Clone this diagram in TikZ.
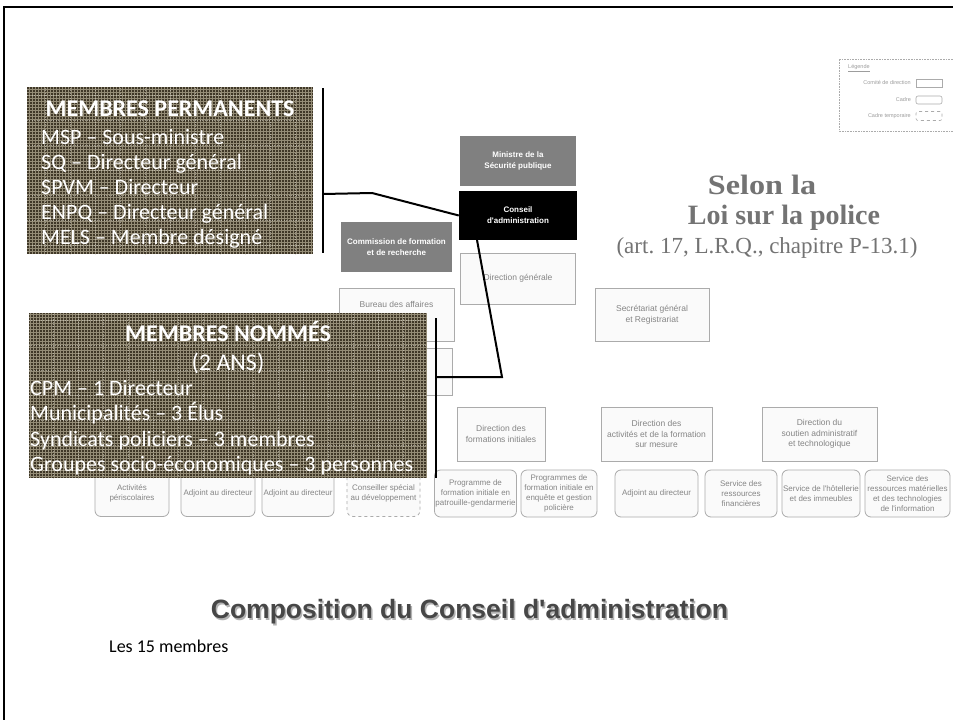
\documentclass[tikz,border=0pt]{standalone}
\usepackage{fontspec}
\usepackage{graphicx}
\setmainfont{Liberation Sans}[Ligatures=TeXOff]
\newfontfamily\calfont{Carlito}
\newfontfamily\seriffont{Liberation Serif}
\usetikzlibrary{backgrounds}
\definecolor{boxbase}{HTML}{3F3727}
\definecolor{gridc}{HTML}{948C76}
\definecolor{orgline}{HTML}{ABABAB}
\definecolor{orgtext}{HTML}{858585}
\definecolor{midgray}{HTML}{808080}
\definecolor{titlegray}{HTML}{737373}
\begin{document}
\frenchspacing
\begin{tikzpicture}[x=1pt,y=-1pt,
  conn/.style={draw=orgline, line width=0.8pt},
  org/.style={draw=orgline, fill=white!98!black, line width=0.8pt, text=orgtext,
    font=\fontsize{8.5}{10.5}\selectfont, align=center, inner sep=1pt},
  sub/.style={org, rounded corners=6pt, font=\fontsize{8}{10}\selectfont, minimum height=47pt},
  dirbox/.style={org, minimum height=54pt},
  gbox/.style={fill=midgray, text=white, align=center, inner sep=1pt,
    font=\bfseries\fontsize{8}{11}\selectfont},
  darkbox/.style={fill=boxbase, inner sep=0pt,
    path picture={\draw[gridc, line width=0.55pt] (path picture bounding box.south west) grid[step=3pt] (path picture bounding box.north east);
      \draw[white!60!gridc, line width=0.4pt, dotted, opacity=0.6] (path picture bounding box.south west) grid[step=25pt] (path picture bounding box.north east);}},
  btext/.style={text=white, font=\calfont\fontsize{22}{26}\selectfont, anchor=base west, inner sep=0pt},
  btitle/.style={text=white, font=\calfont\bfseries\fontsize{24}{28}\selectfont, anchor=base, inner sep=0pt},
  thick line/.style={draw=black, line width=2pt},
  legtxt/.style={text=orgtext!80, font=\fontsize{5.5}{6.5}\selectfont, inner sep=0pt}
]
\useasboundingbox (0,0) rectangle (953,720);
\fill[white] (0,0) rectangle (953,720);

% frame
\coordinate (fa) at (4,720);
\coordinate (fb) at (4,7);
\coordinate (fc) at (953,7);
\draw[black, line width=2pt] (fa) -- (fb) -- (fc);

% legend
\coordinate (la) at (953,59);
\coordinate (lb) at (839,59);
\coordinate (lc) at (839,131);
\coordinate (ld) at (953,131);
\draw[orgline, densely dotted, line width=0.6pt] (la) -- (lb) -- (lc) -- (ld);
\node[legtxt, anchor=west] (leg) at (848,68) {\underline{Légende}};
\node[legtxt, anchor=east] (lg1) at (911,83) {Comité de direction};
\node[draw=orgline, line width=0.6pt, minimum width=26pt, minimum height=8pt, inner sep=0pt] (lgb1) at (929,83) {};
\node[legtxt, anchor=east] (lg2) at (911,100) {Cadre};
\node[draw=orgline, line width=0.6pt, rounded corners=2pt, minimum width=26pt, minimum height=8pt, inner sep=0pt] (lgb2) at (929,100) {};
\node[legtxt, anchor=east] (lg3) at (911,116) {Cadre temporaire};
\node[draw=orgline, dashed, line width=0.6pt, rounded corners=2pt, minimum width=26pt, minimum height=9pt, inner sep=0pt] (lgb3) at (929,116) {};

% org chart nodes
\node[gbox, minimum width=116pt, minimum height=50pt] (min) at (518,161) {Ministre de la\\Sécurité publique};
\node[gbox, fill=black, minimum width=118pt, minimum height=49pt] (cons) at (518,215.5) {Conseil\\d'administration};
\node[gbox, minimum width=111pt, minimum height=50pt] (comm) at (396.5,247) {Commission de formation\\et de recherche};
\node[org, minimum width=115pt, minimum height=51pt] (dg) at (518,278.5) {Direction générale};
\node[org, minimum width=115pt, minimum height=53pt] (bur) at (396.5,314.5) {};
\node[text=orgtext, font=\fontsize{8.5}{10.5}\selectfont, inner sep=0pt] (burt) at (396.5,304) {Bureau des affaires};
\node[org, minimum width=112pt, minimum height=47pt] (hid) at (396,371.5) {};
\node[org, minimum width=114pt, minimum height=53pt] (sec) at (652,314.5) {Secrétariat général\\et Registrariat};

\node[dirbox, minimum width=88pt] (dfi) at (501,434) {Direction des\\formations initiales};
\node[dirbox, minimum width=111pt] (daf) at (656.5,434) {Direction des\\activités et de la formation\\sur mesure};
\node[dirbox, minimum width=115pt] (dsat) at (819.5,434) {Direction du\\soutien administratif\\et technologique};

\node[sub, minimum width=81pt] (p1) at (475.5,493.5) {Programme de\\formation initiale en\\patrouille-gendarmerie};
\node[sub, minimum width=76pt] (p2) at (559,493.5) {Programmes de\\formation initiale en\\enquête et gestion\\policière};
\node[sub, minimum width=83pt] (adj) at (656.5,493.5) {Adjoint au directeur};
\node[sub, minimum width=72pt] (s1) at (741,493.5) {Service des\\ressources\\financières};
\node[sub, minimum width=78pt] (s2) at (821,493.5) {Service de l'hôtellerie\\et des immeubles};
\node[sub, minimum width=85pt] (s3) at (907.5,493.5) {Service des\\ressources matérielles\\et des technologies\\de l'information};

\node[sub, minimum width=74pt] (a1) at (132,493) {Activités\\périscolaires};
\node[sub, minimum width=74pt] (a2) at (218,493) {Adjoint au directeur};
\node[sub, minimum width=72pt] (a3) at (298,493) {Adjoint au directeur};
\node[sub, dashed, minimum width=73pt] (a4) at (383.5,493) {Conseiller spécial\\au développement};

% connectors
\coordinate (hub) at (518,402);
\coordinate (hl) at (400,402);
\coordinate (hr) at (819.5,402);
\coordinate (cl1) at (174,470);
\coordinate (cl2) at (337,470);
\begin{pgfonlayer}{background}
\draw[conn] (min.south) -- (dfi.north -| min.south);
\draw[conn] (comm.east) -- (comm.east -| min.south);
\draw[conn] (bur.east) -- (sec.west);
\draw[conn] (hid.east) -- (hid.east -| min.south);
\draw[conn] (hl) -- (hr) -- (dsat.north);
\draw[conn] (daf.north) -- (daf.north |- hub);
\draw[conn] (dfi.south -| hub) -- ++(0,4) coordinate (dj);
\draw[conn] (p1.north) |- (p2.north |- dj) -- (p2.north);
\draw[conn] (daf.south) -- ++(0,4) -| (608,489) -- (adj.west |- 608,489);
\draw[conn] (dsat.south) -- ++(0,4) coordinate (sj);
\draw[conn] (s1.north) |- (s3.north |- sj) -- (s3.north);
\draw[conn] (s2.north) -- (s2.north |- sj);
\draw[conn] (cl1) |- (a2.west |- 0,487);
\draw[conn] (cl2) |- (a4.west |- 0,487);
\end{pgfonlayer}

% dark boxes
\node[darkbox, minimum width=286pt, minimum height=167pt] (perm) at (170,170.5) {};
\node[btitle] (pt) at (170,116) {MEMBRES PERMANENTS};
\node[btext] (p1t) at (41,144) {MSP – Sous-ministre};
\node[btext] (p2t) at (41,169) {SQ – Directeur général};
\node[btext] (p3t) at (41,194) {SPVM – Directeur};
\node[btext] (p4t) at (41,219) {ENPQ – Directeur général};
\node[btext] (p5t) at (41,244) {MELS – Membre désigné};

\node[darkbox, minimum width=398pt, minimum height=165pt] (nom) at (228,395.5) {};
\node[btitle] (nt) at (228,341) {MEMBRES NOMMÉS};
\node[btitle, font=\calfont\fontsize{24}{28}\selectfont] (nt2) at (228,370) {(2 ANS)};
\node[btext] (n1) at (30,395) {CPM – 1 Directeur};
\node[btext] (n2) at (30,420.5) {Municipalités – 3 Élus};
\node[btext] (n3) at (30,446) {Syndicats policiers – 3 membres};
\node[btext] (n4) at (30,471.5) {Groupes socio-économiques – 3 personnes};

% thick bracket lines
\coordinate (ta) at (323,88);
\coordinate (tb) at (323,253);
\coordinate (tc) at (323,194);
\coordinate (td) at (372,193);
\draw[thick line] (ta) -- (tb);
\draw[thick line] (tc) -- (td) -- (cons.west);
\coordinate (te) at (477,240);
\coordinate (tf) at (502,377);
\coordinate (tg) at (436,377);
\coordinate (th) at (436,318);
\coordinate (ti) at (436,478);
\draw[thick line] (te) -- (tf) -- (tg);
\draw[thick line] (th) -- (ti);

% title text right
\node[text=titlegray, font=\seriffont\bfseries\fontsize{28}{32}\selectfont, anchor=base, inner sep=0pt] (sel1) at (762,194) {\scalebox{1.15}[1]{Selon la}};
\node[text=titlegray, font=\seriffont\bfseries\fontsize{28}{32}\selectfont, anchor=base, inner sep=0pt] (sel2) at (784,224) {Loi sur la police};
\node[text=titlegray, font=\seriffont\fontsize{23}{27}\selectfont, anchor=base, inner sep=0pt] (sel3) at (767,253) {(art. 17, L.R.Q., chapitre P-13.1)};

% bottom titles
\node[text=black!30, font=\bfseries\fontsize{26.5}{30}\selectfont, anchor=base, inner sep=0pt] (compsh) at (471,620) {Composition du Conseil d'administration};
\node[text=black!72, font=\bfseries\fontsize{26.5}{30}\selectfont, anchor=base, inner sep=0pt] (comp) at (469.5,618.5) {Composition du Conseil d'administration};
\node[text=black, font=\calfont\fontsize{18}{21}\selectfont, anchor=base west, inner sep=0pt] (les) at (109,652) {Les 15 membres};
\end{tikzpicture}
\end{document}
